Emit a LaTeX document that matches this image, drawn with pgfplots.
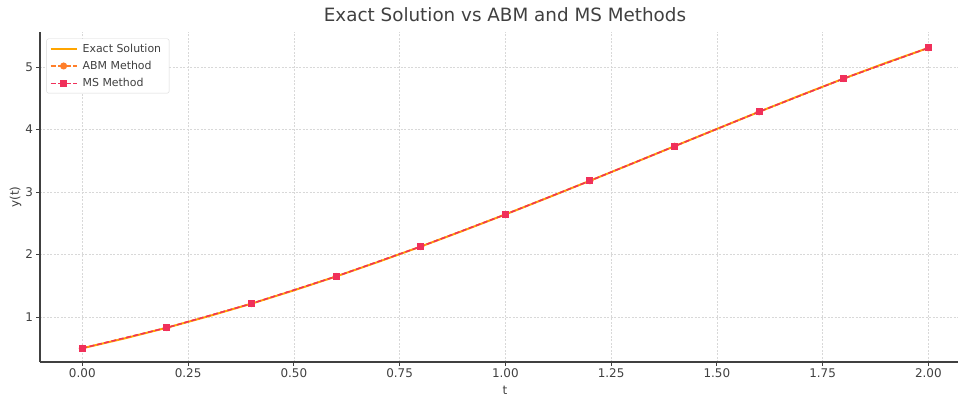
\documentclass[border=0pt]{standalone}
\usepackage{fontspec}
\setmainfont{DejaVu Sans}
\usepackage{pgfplots}
\pgfplotsset{compat=1.18}
\definecolor{exactc}{HTML}{FFA500}
\definecolor{abmc}{HTML}{FF7F2A}
\definecolor{msc}{HTML}{F0305A}
\definecolor{txt}{HTML}{404040}
\definecolor{gridc}{HTML}{D8D8D8}
\begin{document}
\begin{tikzpicture}
\begin{axis}[
  scale only axis,
  width=918bp, height=330bp,
  xmin=-0.1, xmax=2.07,
  ymin=0.28, ymax=5.56,
  axis x line*=bottom, axis y line*=left,
  axis line style={txt, line width=1.1pt},
  xtick={0,0.25,...,2.0},
  xticklabels={0.00,0.25,0.50,0.75,1.00,1.25,1.50,1.75,2.00},
  ytick={1,2,3,4,5},
  tick align=outside, major tick length=3.5bp,
  tick style={txt, line width=0.8pt},
  grid=major,
  grid style={gridc, dash pattern=on 2bp off 1.5bp, line width=0.5pt},
  /pgf/number format/assume math mode=true,
  ticklabel style={font=\fontsize{12}{14}\selectfont, text=txt},
  xlabel={t}, ylabel={y(t)},
  label style={font=\fontsize{12}{14}\selectfont, text=txt},
  xlabel style={at={(0.5065,0)}, anchor=north, yshift=-21bp},
  ylabel style={at={(0,0.5)}, yshift=15bp},
  title={Exact Solution vs ABM and MS Methods},
  title style={font=\fontsize{18.4}{22}\selectfont, text=txt, at={(0.5065,1)}, anchor=base, yshift=5bp},
  legend style={font=\fontsize{11}{13}\selectfont, text=txt, draw=gridc, rounded corners=2pt, at={(0.007,0.98)}, anchor=north west, row sep=3.5bp, inner sep=3pt, nodes={inner xsep=5bp}},
  legend cell align=left,
  legend image code/.code={
    \draw[#1, mark=none] (0bp,0bp) -- (26bp,0bp);
    \draw[#1] plot coordinates {(13bp,0bp)};
  },
]
\addplot[exactc, line width=2pt] coordinates {
(0.0,0.500000) (0.1,0.657415) (0.2,0.829299) (0.3,1.015071) (0.4,1.214088)
(0.5,1.425639) (0.6,1.648941) (0.7,1.883124) (0.8,2.127230) (0.9,2.380198)
(1.0,2.640859) (1.1,2.907917) (1.2,3.179942) (1.3,3.455352) (1.4,3.732400)
(1.5,4.009155) (1.6,4.283484) (1.7,4.553026) (1.8,4.815176) (1.9,5.067050)
(2.0,5.305472)};
\addlegendentry{Exact Solution}
\addplot[abmc, line width=1.4pt, dash pattern=on 5bp off 2.5bp, mark=*, mark size=2.8bp, mark options={solid}] coordinates {
(0.0,0.5000) (0.2,0.8293) (0.4,1.2141) (0.6,1.6489) (0.8,2.1272) (1.0,2.6409)
(1.2,3.1799) (1.4,3.7324) (1.6,4.2835) (1.8,4.8152) (2.0,5.3055)};
\addlegendentry{ABM Method}
\addplot[msc, line width=1.4pt, dash pattern=on 5bp off 2.5bp, mark=square*, mark size=2.8bp, mark options={solid}] coordinates {
(0.0,0.5000) (0.2,0.8293) (0.4,1.2141) (0.6,1.6489) (0.8,2.1272) (1.0,2.6409)
(1.2,3.1799) (1.4,3.7324) (1.6,4.2835) (1.8,4.8152) (2.0,5.3055)};
\addlegendentry{MS Method}
\end{axis}
\pgfresetboundingbox
\path ([shift={(-40bp,-34bp)}]current axis.south west) rectangle ([shift={(1bp,32bp)}]current axis.north east);
\end{tikzpicture}
\end{document}
